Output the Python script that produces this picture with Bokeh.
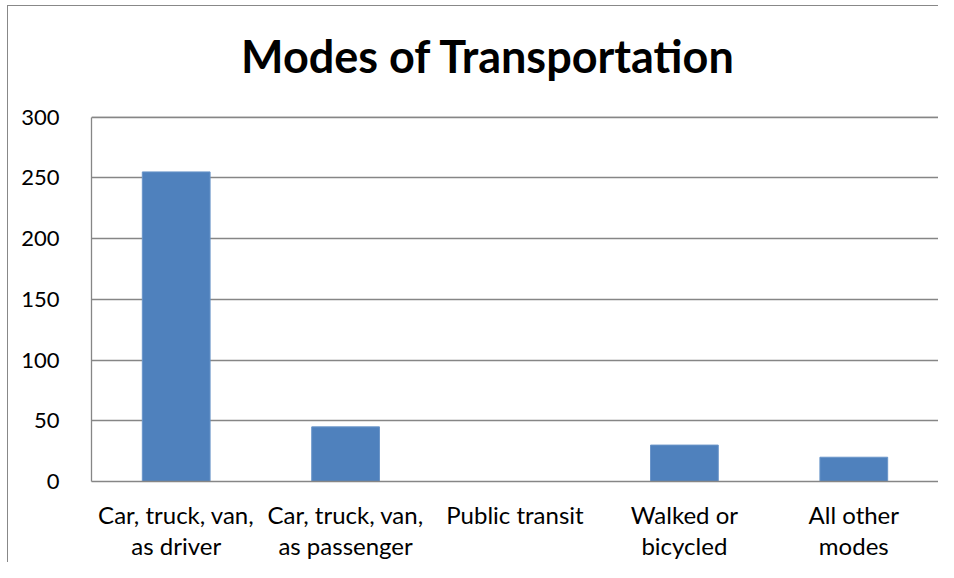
from bokeh.plotting import figure
from bokeh.models import Range1d, FactorRange, Label, Span
from bokeh.embed import file_html
from bokeh.resources import INLINE

categories = ["Car, truck, van,\nas driver", "Car, truck, van,\nas passenger",
              "Public transit", "Walked or\nbicycled", "All other\nmodes"]
values = [255, 45, 0, 30, 20]
y_ticks = [0, 50, 100, 150, 200, 250, 300]
title_text = "Modes of Transportation"

FONT = "Lato"
GRID = "#868686"

# layout (pixels)
W, H = 931, 557
B_TOP, B_BOTTOM = 12, 81
AXIS_PX = 365            # pixel height of the 0..300 value axis
TITLE_BASE_PX = 426      # title anchor, pixels above the zero line
TITLE_X = 2.344          # title centre, in category units

frame_h = H - B_TOP - B_BOTTOM
y_top = y_ticks[-1] * frame_h / AXIS_PX

p = figure(width=W, height=H, x_range=FactorRange(*categories),
           y_range=Range1d(0, y_top), output_backend="svg", toolbar_location=None,
           min_border_left=83, min_border_right=1, min_border_top=B_TOP,
           min_border_bottom=B_BOTTOM)
p.margin = (5, 0, 0, 7)
p.styles = {"border-top": "1px solid #888888", "border-left": "1px solid #888888"}

p.vbar(x=categories, top=values, width=0.4, fill_color="#4F81BD", line_color="#6A95C9",
       line_width=1)

p.add_layout(Span(location=y_ticks[-1], dimension="width", line_color=GRID, line_width=1.3))

title = Label(x=TITLE_X, y=y_ticks[-1] * TITLE_BASE_PX / AXIS_PX, text=title_text,
              text_font=FONT, text_font_size="45px", text_font_style="bold",
              text_color="black", text_align="center", text_baseline="alphabetic")
p.add_layout(title)

p.outline_line_color = None
p.xgrid.grid_line_color = None
p.ygrid.grid_line_color = GRID
p.ygrid.grid_line_width = 1.3
p.ygrid.ticker = y_ticks
p.yaxis.ticker = y_ticks
p.yaxis.bounds = (y_ticks[0], y_ticks[-1])

for ax in (p.xaxis[0], p.yaxis[0]):
    ax.axis_line_color = GRID
    ax.axis_line_width = 1.3
    ax.major_tick_line_color = None
    ax.minor_tick_line_color = None
    ax.major_label_text_font = FONT
    ax.major_label_text_color = "black"

p.yaxis.major_label_text_font_size = "22px"
p.xaxis.major_label_text_font_size = "24px"
p.xaxis.major_label_text_line_height = 1.1
p.yaxis.major_label_standoff = 26
p.xaxis.major_label_standoff = 12
p.background_fill_color = "white"
p.border_fill_color = "white"

open("out.html", "w").write(file_html(p, INLINE))
